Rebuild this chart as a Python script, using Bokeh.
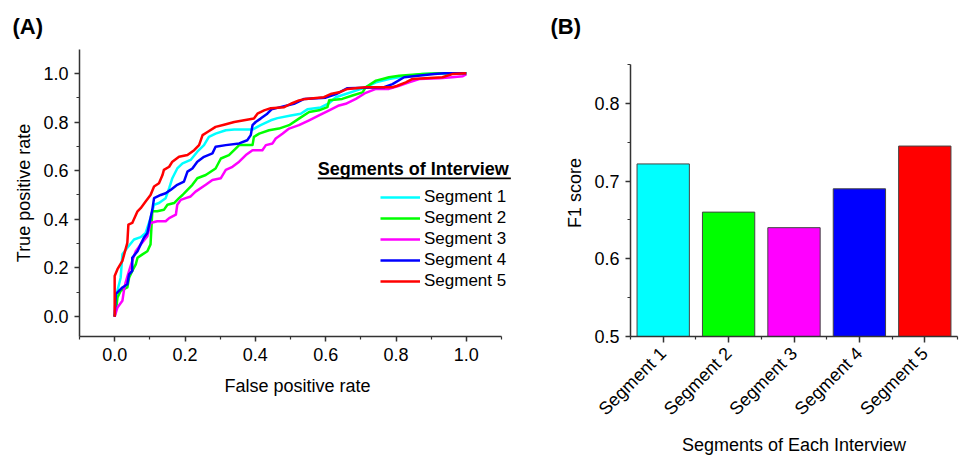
import math
from bokeh.plotting import figure
from bokeh.layouts import row
from bokeh.models import (Label, Legend, LegendItem, FixedTicker, PrintfTickFormatter,
                          Range1d, BoxAnnotation, ColumnDataSource, Title)
from bokeh.embed import file_html
from bokeh.resources import INLINE

FONT = "Liberation Sans"

# ---------------- data ----------------
series_names = ["Segment 1", "Segment 2", "Segment 3", "Segment 4", "Segment 5"]
series_colors = ["#00FFFF", "#00FF00", "#FF00FF", "#0000FF", "#FF0000"]

seg1_fpr = [0, 0.005, 0.017, 0.022, 0.036, 0.055, 0.074, 0.088, 0.102, 0.112,
            0.126, 0.145, 0.155, 0.164, 0.178, 0.193, 0.216, 0.235, 0.254, 0.268,
            0.287, 0.316, 0.34, 0.392, 0.415, 0.444, 0.463, 0.501, 0.529, 0.548,
            0.586, 0.61, 0.629, 0.657, 0.686, 0.714, 0.743, 0.78, 0.809, 0.875,
            0.95, 1.0]
seg1_tpr = [0, 0.09, 0.16, 0.256, 0.283, 0.317, 0.327, 0.344, 0.405, 0.46,
            0.467, 0.487, 0.528, 0.569, 0.609, 0.63, 0.644, 0.678, 0.705, 0.739,
            0.752, 0.766, 0.769, 0.769, 0.787, 0.807, 0.816, 0.827, 0.834, 0.852,
            0.86, 0.878, 0.902, 0.915, 0.929, 0.943, 0.963, 0.977, 0.984, 0.997,
            1.0, 1.0]

seg2_fpr = [0, 0.005, 0.008, 0.017, 0.036, 0.041, 0.05, 0.06, 0.065, 0.079,
            0.093, 0.102, 0.107, 0.121, 0.14, 0.15, 0.169, 0.183, 0.193, 0.207,
            0.221, 0.235, 0.259, 0.287, 0.302, 0.325, 0.344, 0.354, 0.392, 0.396,
            0.411, 0.439, 0.467, 0.496, 0.524, 0.553, 0.581, 0.605, 0.61, 0.647,
            0.676, 0.705, 0.714, 0.743, 0.762, 0.78, 0.809, 0.875, 0.923, 1.0]
seg2_tpr = [0, 0.04, 0.079, 0.106, 0.12, 0.16, 0.188, 0.215, 0.242, 0.256,
            0.269, 0.297, 0.433, 0.433, 0.439, 0.46, 0.467, 0.487, 0.5, 0.521,
            0.542, 0.569, 0.582, 0.609, 0.65, 0.664, 0.691, 0.705, 0.705, 0.739,
            0.752, 0.766, 0.773, 0.787, 0.814, 0.841, 0.848, 0.861, 0.889, 0.895,
            0.909, 0.922, 0.943, 0.97, 0.977, 0.984, 0.99, 0.997, 1.0, 1.0]

seg3_fpr = [0, 0.008, 0.022, 0.027, 0.031, 0.041, 0.05, 0.06, 0.074, 0.093,
            0.102, 0.121, 0.145, 0.155, 0.174, 0.178, 0.188, 0.202, 0.216, 0.23,
            0.259, 0.278, 0.302, 0.316, 0.335, 0.354, 0.373, 0.392, 0.42, 0.43,
            0.449, 0.458, 0.477, 0.496, 0.524, 0.553, 0.581, 0.61, 0.638, 0.657,
            0.686, 0.714, 0.743, 0.78, 0.809, 0.837, 0.866, 0.923, 0.96, 0.99,
            1.0]
seg3_tpr = [0, 0.038, 0.065, 0.113, 0.14, 0.188, 0.229, 0.269, 0.297, 0.331,
            0.385, 0.392, 0.392, 0.405, 0.419, 0.46, 0.48, 0.487, 0.494, 0.514,
            0.542, 0.562, 0.569, 0.603, 0.616, 0.637, 0.664, 0.684, 0.684, 0.705,
            0.712, 0.732, 0.752, 0.773, 0.787, 0.807, 0.827, 0.848, 0.868, 0.875,
            0.895, 0.92, 0.936, 0.936, 0.949, 0.963, 0.977, 0.98, 0.984, 0.988,
            0.997]

seg4_fpr = [0, 0.003, 0.022, 0.036, 0.041, 0.05, 0.05, 0.065, 0.074, 0.083,
            0.093, 0.098, 0.102, 0.107, 0.112, 0.131, 0.145, 0.159, 0.178, 0.197,
            0.207, 0.221, 0.235, 0.254, 0.278, 0.287, 0.316, 0.354, 0.377, 0.387,
            0.392, 0.401, 0.415, 0.434, 0.446, 0.46, 0.51, 0.539, 0.6, 0.63,
            0.662, 0.766, 0.79, 0.823, 0.909, 0.937, 1.0]
seg4_tpr = [0, 0.093, 0.12, 0.133, 0.174, 0.188, 0.242, 0.269, 0.297, 0.324,
            0.344, 0.378, 0.405, 0.439, 0.487, 0.5, 0.507, 0.521, 0.542, 0.555,
            0.596, 0.609, 0.637, 0.657, 0.671, 0.698, 0.705, 0.712, 0.725, 0.746,
            0.787, 0.8, 0.814, 0.834, 0.852, 0.857, 0.875, 0.895, 0.9, 0.915,
            0.939, 0.943, 0.956, 0.984, 0.997, 1.0, 1.0]

seg5_fpr = [0, 0, 0.008, 0.022, 0.027, 0.036, 0.039, 0.05, 0.065, 0.074,
            0.088, 0.102, 0.112, 0.126, 0.136, 0.14, 0.155, 0.164, 0.183, 0.207,
            0.226, 0.24, 0.25, 0.264, 0.287, 0.311, 0.34, 0.368, 0.396, 0.406,
            0.425, 0.444, 0.482, 0.501, 0.524, 0.543, 0.595, 0.614, 0.638, 0.662,
            0.714, 0.79, 0.804, 0.828, 0.847, 0.932, 0.96, 1.0]
seg5_tpr = [0, 0.167, 0.195, 0.229, 0.256, 0.303, 0.378, 0.385, 0.433, 0.446,
            0.473, 0.5, 0.535, 0.548, 0.582, 0.603, 0.616, 0.637, 0.657, 0.664,
            0.684, 0.705, 0.746, 0.759, 0.78, 0.789, 0.8, 0.807, 0.814, 0.834,
            0.848, 0.857, 0.861, 0.875, 0.889, 0.895, 0.902, 0.915, 0.922, 0.936,
            0.943, 0.943, 0.949, 0.963, 0.977, 0.984, 0.997, 1.0]

roc_fpr = [seg1_fpr, seg2_fpr, seg3_fpr, seg4_fpr, seg5_fpr]
roc_tpr = [seg1_tpr, seg2_tpr, seg3_tpr, seg4_tpr, seg5_tpr]

roc_major_ticks = [0.0, 0.2, 0.4, 0.6, 0.8, 1.0]
roc_minor_ticks = [-0.1, 0.1, 0.3, 0.5, 0.7, 0.9, 1.1]

bar_categories = ["Segment 1", "Segment 2", "Segment 3", "Segment 4", "Segment 5"]
f1_scores = [0.722, 0.660, 0.640, 0.690, 0.745]
f1_major_ticks = [0.5, 0.6, 0.7, 0.8]
f1_minor_ticks = [0.55, 0.65, 0.75, 0.85]

AXIS_COLOR = "#333333"
TEXT_COLOR = "#000000"
FIG_H = 460
FRAME_TOP = 48
FRAME_BOTTOM = 336


def style_axis(ax):
    ax.axis_line_color = AXIS_COLOR
    ax.axis_line_width = 1.5
    ax.major_tick_line_color = AXIS_COLOR
    ax.major_tick_line_width = 1.5
    ax.minor_tick_line_color = AXIS_COLOR
    ax.minor_tick_line_width = 1.2
    ax.major_tick_in = 0
    ax.major_tick_out = 5
    ax.minor_tick_in = 0
    ax.minor_tick_out = 3
    ax.major_label_text_font = FONT
    ax.major_label_text_font_size = "18px"
    ax.major_label_text_color = TEXT_COLOR
    ax.major_label_standoff = 6
    ax.axis_label_text_font = FONT
    ax.axis_label_text_font_size = "18px"
    ax.axis_label_text_font_style = "normal"
    ax.axis_label_text_color = TEXT_COLOR
    ax.axis_label_standoff = 12


def panel_title(text, offset):
    return Title(text=text, align="left", offset=offset, standoff=22,
                 text_font=FONT, text_font_size="22px", text_font_style="bold",
                 text_color=TEXT_COLOR)


# ---------------- panel A: ROC ----------------
pa = figure(width=518, height=FIG_H, output_backend="svg", toolbar_location=None,
            x_range=Range1d(-0.1, 1.1398), y_range=Range1d(-0.0816, 1.098),
            min_border_left=79, min_border_right=3, min_border_top=FRAME_TOP,
            min_border_bottom=FIG_H - FRAME_BOTTOM)
pa.title = panel_title("(A)", -67)
pa.outline_line_color = None
pa.grid.visible = False
for ax in (pa.xaxis[0], pa.yaxis[0]):
    style_axis(ax)
    ax.ticker = FixedTicker(ticks=roc_major_ticks, minor_ticks=roc_minor_ticks)
    ax.formatter = PrintfTickFormatter(format="%.1f")
pa.xaxis.bounds = (-0.1, 1.1)
pa.xaxis.axis_label = "False positive rate"
pa.yaxis.axis_label = "True positive rate"
pa.xaxis.axis_label_standoff = 12
pa.yaxis.axis_label_standoff = 6

items = []
for name, color, xs, ys in zip(series_names, series_colors, roc_fpr, roc_tpr):
    r = pa.line(xs, ys, line_color=color, line_width=2.5, line_join="round")
    items.append(LegendItem(label=name, renderers=[r]))

legend = Legend(items=items, location=(301, 45), glyph_width=40, glyph_height=20,
                label_height=20, spacing=1, padding=0, margin=0, label_standoff=4,
                label_text_font=FONT, label_text_font_size="17px",
                label_text_color=TEXT_COLOR, border_line_alpha=0,
                background_fill_alpha=0)
pa.add_layout(legend)

pa.add_layout(Label(x=0.5775, y=0.608, text="Segments of Interview", text_font=FONT,
                    text_font_size="18px", text_font_style="bold", text_color=TEXT_COLOR,
                    text_baseline="middle", text_align="left"))
pa.add_layout(BoxAnnotation(left=0.5775, right=1.1266, bottom=0.5650, top=0.5715,
                            fill_color=TEXT_COLOR, fill_alpha=1, line_alpha=0))

# ---------------- panel B: F1 bars ----------------
bar_x = list(range(1, len(bar_categories) + 1))
src = ColumnDataSource(dict(x=bar_x, top=f1_scores, color=series_colors))

pb = figure(width=442, height=FIG_H, output_backend="svg", toolbar_location=None,
            x_range=Range1d(0.5, len(bar_categories) + 0.5), y_range=Range1d(0.5, 0.8692),
            min_border_left=112, min_border_right=3, min_border_top=FRAME_TOP,
            min_border_bottom=FIG_H - FRAME_BOTTOM)
pb.title = panel_title("(B)", -80)
pb.outline_line_color = None
pb.grid.visible = False
pb.vbar(x="x", top="top", bottom=0, width=0.8, fill_color="color",
        line_color="#444444", line_width=1, source=src)
for ax in (pb.xaxis[0], pb.yaxis[0]):
    style_axis(ax)
pb.yaxis.ticker = FixedTicker(ticks=f1_major_ticks, minor_ticks=f1_minor_ticks)
pb.yaxis.formatter = PrintfTickFormatter(format="%.1f")
pb.yaxis.bounds = (0.5, 0.85)
pb.yaxis.axis_label_standoff = 6
pb.xaxis.ticker = FixedTicker(ticks=bar_x,
                              minor_ticks=[i + 0.5 for i in range(len(bar_categories) + 1)])
pb.xaxis.major_label_overrides = {x: c for x, c in zip(bar_x, bar_categories)}
pb.xaxis.major_label_orientation = math.pi / 4
pb.xaxis.major_tick_out = 6
pb.xaxis.major_label_standoff = 8
pb.xaxis.axis_label = "Segments of Each Interview"
pb.yaxis.axis_label = "F1 score"
pb.xaxis.axis_label_standoff = 6

layout = row(pa, pb)
open("out.html", "w").write(file_html(layout, INLINE))
